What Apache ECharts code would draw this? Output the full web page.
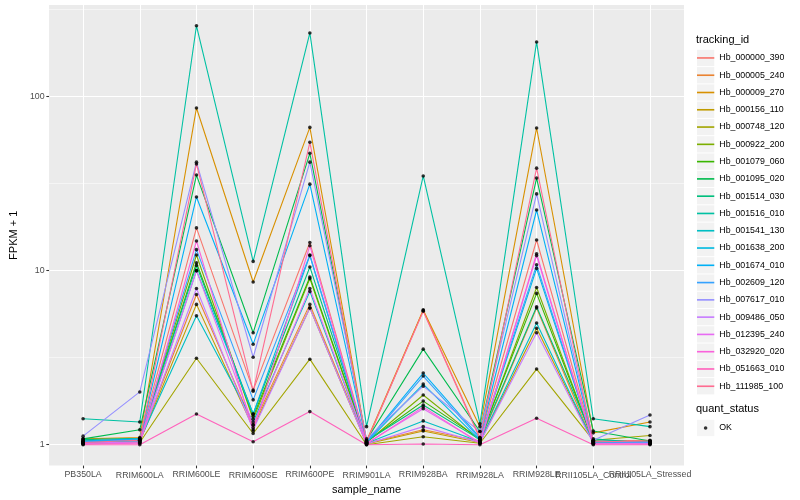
<!DOCTYPE html>
<html>
<head>
<meta charset="utf-8">
<script src="https://cdn.jsdelivr.net/npm/echarts@6/dist/echarts.min.js"></script>
<style>html,body{margin:0;padding:0;background:#fff}#c{width:800px;height:500px}</style>
</head>
<body>
<div id="c"></div>
<script>
// ---- data (FPKM + 1) ----
const categories = ["PB350LA","RRIM600LA","RRIM600LE","RRIM600SE","RRIM600PE","RRIM901LA","RRIM928BA","RRIM928LA","RRIM928LE","RRII105LA_Control","RRII105LA_Stressed"];
const trackingIds = ["Hb_000000_390","Hb_000005_240","Hb_000009_270","Hb_000156_110","Hb_000748_120","Hb_000922_200","Hb_001079_060","Hb_001095_020","Hb_001514_030","Hb_001516_010","Hb_001541_130","Hb_001638_200","Hb_001674_010","Hb_002609_120","Hb_007617_010","Hb_009486_050","Hb_012395_240","Hb_032920_020","Hb_051663_010","Hb_111985_100"];
const colors = ["#F8766D","#EA8331","#D89000","#C09B00","#A3A500","#7CAE00","#39B600","#00BB4E","#00BF7D","#00C1A3","#00BFC4","#00BAE0","#00B0F6","#35A2FF","#9590FF","#C77CFF","#E76BF3","#FA62DB","#FF62BC","#FF6C91"];
const Hb_000000_390 = [1.05,1.08,17.6,2.06,14.5,1.03,5.9,1.1,15.0,1.05,1.06];
const Hb_000005_240 = [1.02,1.05,7.3,1.3,6.4,1.02,1.22,1.05,6.1,1.02,1.04];
const Hb_000009_270 = [1.08,1.1,86,8.6,66.5,1.05,5.95,1.27,66,1.17,1.35];
const Hb_000156_110 = [1.03,1.04,6.4,1.25,6.1,1.01,1.2,1.03,4.66,1.03,1.05];
const Hb_000748_120 = [1.01,1.03,3.14,1.16,3.1,1.0,1.11,1.02,2.72,1.06,1.13];
const Hb_000922_200 = [1.04,1.06,12.3,1.4,9.0,1.03,1.93,1.06,8.0,1.04,1.03];
const Hb_001079_060 = [1.05,1.07,11.1,1.45,9.2,1.04,1.78,1.08,7.4,1.05,1.04];
const Hb_001095_020 = [1.08,1.22,35.4,4.4,47.2,1.06,3.54,1.19,34,1.2,1.05];
const Hb_001514_030 = [1.07,1.09,10.7,1.5,10.5,1.05,1.69,1.07,6.2,1.08,1.02];
const Hb_001516_010 = [1.41,1.35,255,11.3,232,1.27,35,1.32,206,1.41,1.27];
const Hb_001541_130 = [1.04,1.06,5.5,1.35,7.6,1.02,1.37,1.04,5.0,1.03,1.03];
const Hb_001638_200 = [1.03,1.05,10.0,1.5,12.2,1.03,2.23,1.06,10.3,1.04,1.02];
const Hb_001674_010 = [1.05,1.08,26.5,3.78,31.4,1.04,2.58,1.1,22.3,1.05,1.04];
const Hb_002609_120 = [1.04,1.07,13.2,1.81,12.3,1.03,2.48,1.08,10.8,1.04,1.03];
const Hb_007617_010 = [1.12,2.01,42,3.18,42,1.08,2.17,1.19,27.6,1.06,1.48];
const Hb_009486_050 = [1.02,1.04,7.9,1.22,6.1,1.01,1.27,1.03,4.4,1.02,1.02];
const Hb_012395_240 = [1.02,1.03,10.0,1.3,7.9,1.02,1.61,1.03,12.2,1.02,1.01];
const Hb_032920_020 = [1.01,1.02,14.8,1.2,13.9,1.01,1.65,1.02,12.5,1.01,1.01];
const Hb_051663_010 = [1.0,1.0,1.5,1.04,1.55,1.0,1.01,1.0,1.42,1.0,1.0];
const Hb_111985_100 = [1.03,1.06,41,2.03,54.6,1.04,5.85,1.08,38.8,1.04,1.05];
const seriesValues = [Hb_000000_390,Hb_000005_240,Hb_000009_270,Hb_000156_110,Hb_000748_120,Hb_000922_200,Hb_001079_060,Hb_001095_020,Hb_001514_030,Hb_001516_010,Hb_001541_130,Hb_001638_200,Hb_001674_010,Hb_002609_120,Hb_007617_010,Hb_009486_050,Hb_012395_240,Hb_032920_020,Hb_051663_010,Hb_111985_100];
const yMajorTicks = [1, 10, 100];
const yMinorTicks = [3.1623, 31.623, 316.23];

// ---- chart ----
const FONT = "Liberation Sans, Arial, sans-serif";
const lg = v => Math.log10(v);
const series = trackingIds.map((id, k) => ({
  name: id, type: 'line', showSymbol: false, symbol: 'none',
  lineStyle: {width: 1.1, color: colors[k]}, itemStyle: {color: colors[k]},
  data: seriesValues[k].map((v, i) => [i, lg(v)]), z: 2, silent: true
}));
const pts = [];
seriesValues.forEach(arr => arr.forEach((v, i) => pts.push([i, lg(v)])));
series.push({name: 'OK', type: 'scatter', symbol: 'circle', symbolSize: 3.6,
  itemStyle: {color: '#000'}, data: pts, z: 3, silent: true});

const pitch = 17.28;
const legTop = 49.3;
const gridTop = 5, gridBottom = 32;
const catIdx = categories.map((c, i) => i);
const evenIdx = catIdx.filter(i => i % 2 === 0);
const oddIdx = catIdx.filter(i => i % 2 === 1);
const labelStyle = {fontFamily: FONT, fontSize: 8.8, color: '#4D4D4D', hideOverlap: false, showMinLabel: true, showMaxLabel: true};
const option = {
  animation: false,
  backgroundColor: '#fff',
  textStyle: {fontFamily: FONT},
  title: [
    {text: 'tracking_id', left: 696, top: 34, padding: 0, textStyle: {fontFamily: FONT, fontSize: 11, fontWeight: 'normal', color: '#000'}},
    {text: 'quant_status', left: 696, top: 403.5, padding: 0, textStyle: {fontFamily: FONT, fontSize: 11, fontWeight: 'normal', color: '#000'}}
  ],
  grid: {left: 40, right: 116, top: gridTop, bottom: gridBottom, show: true, backgroundColor: '#EBEBEB', borderWidth: 0},
  xAxis: [{
    type: 'value', min: -0.6, max: 10.6, position: 'bottom',
    name: 'sample_name', nameLocation: 'middle', nameGap: 17,
    nameTextStyle: {fontFamily: FONT, fontSize: 11, color: '#000'},
    axisLine: {show: false, onZero: false},
    axisTick: {show: true, length: 2.75, lineStyle: {color: '#333333', width: 1.07}, customValues: catIdx},
    axisLabel: Object.assign({margin: 4.5, customValues: evenIdx, formatter: v => categories[Math.round(v)]}, labelStyle),
    splitLine: {show: true, lineStyle: {color: '#FFFFFF', width: 1.07}}
  }, {
    // carries every other category label so neighbours may overlap as in the original
    type: 'value', min: -0.6, max: 10.6, position: 'top', offset: -(500 - gridTop - gridBottom),
    axisLine: {show: false, onZero: false},
    axisTick: {show: false, customValues: oddIdx},
    axisLabel: Object.assign({inside: true, margin: 3, customValues: oddIdx, formatter: v => categories[Math.round(v)]}, labelStyle),
    splitLine: {show: false}
  }],
  yAxis: [{
    type: 'value', min: -0.12, max: 2.526, position: 'left',
    name: 'FPKM + 1', nameLocation: 'middle', nameGap: 22, nameRotate: 90,
    nameTextStyle: {fontFamily: FONT, fontSize: 11, color: '#000'},
    axisLine: {show: false, onZero: false},
    axisTick: {show: true, length: 2.75, lineStyle: {color: '#333333', width: 1.07}, customValues: yMajorTicks.map(lg)},
    axisLabel: {customValues: yMajorTicks.map(lg), formatter: v => String(Math.round(Math.pow(10, v))), fontFamily: FONT, fontSize: 8.8, color: '#4D4D4D', margin: 4.5, showMinLabel: true, showMaxLabel: true},
    splitLine: {show: true, lineStyle: {color: '#FFFFFF', width: 1.07}}
  }, {
    type: 'value', min: -0.12, max: 2.526, position: 'right', offset: 0,
    axisLine: {show: false, onZero: false},
    axisTick: {show: false, customValues: yMinorTicks.map(lg)},
    axisLabel: {show: false},
    splitLine: {show: true, lineStyle: {color: '#FFFFFF', width: 0.53}}
  }],
  legend: [
    { // key backgrounds + text
      orient: 'vertical', left: 697, top: legTop + 0.5, padding: 0,
      itemWidth: 17.28, itemHeight: pitch - 1, itemGap: 1, selectedMode: false, z: 3,
      data: trackingIds.map(id => ({name: id, icon: 'rect', itemStyle: {color: '#F2F2F2', borderWidth: 0}})),
      textStyle: {fontFamily: FONT, fontSize: 8.8, color: '#000', lineHeight: pitch - 1}
    },
    { // key lines
      orient: 'vertical', left: 697, top: legTop, padding: 0,
      itemWidth: 17.28, itemHeight: pitch, itemGap: 0, selectedMode: false, z: 4,
      icon: 'path://M0,0L17,0L17,1.6L0,1.6Z',
      data: trackingIds,
      textStyle: {fontFamily: FONT, fontSize: 8.8, color: 'rgba(0,0,0,0)', lineHeight: pitch}
    },
    { // quant_status key background + text
      orient: 'vertical', left: 697, top: 419.8, padding: 0,
      itemWidth: 17.28, itemHeight: pitch - 1, itemGap: 1, selectedMode: false, z: 3,
      data: [{name: 'OK', icon: 'rect', itemStyle: {color: '#F2F2F2', borderWidth: 0}}],
      textStyle: {fontFamily: FONT, fontSize: 8.8, color: '#000', lineHeight: pitch - 1}
    },
    { // quant_status dot
      orient: 'vertical', left: 703.8, top: 419.8, padding: 0,
      itemWidth: 3.6, itemHeight: pitch - 1, selectedMode: false, z: 4,
      data: [{name: 'OK', icon: 'circle', itemStyle: {color: '#000'}}],
      textStyle: {fontFamily: FONT, fontSize: 8.8, color: 'rgba(0,0,0,0)', lineHeight: pitch - 1}
    }
  ],
  series: series
};
const chart = echarts.init(document.getElementById('c'), null, {renderer: 'canvas'});
chart.setOption(option);
</script>
</body>
</html>
